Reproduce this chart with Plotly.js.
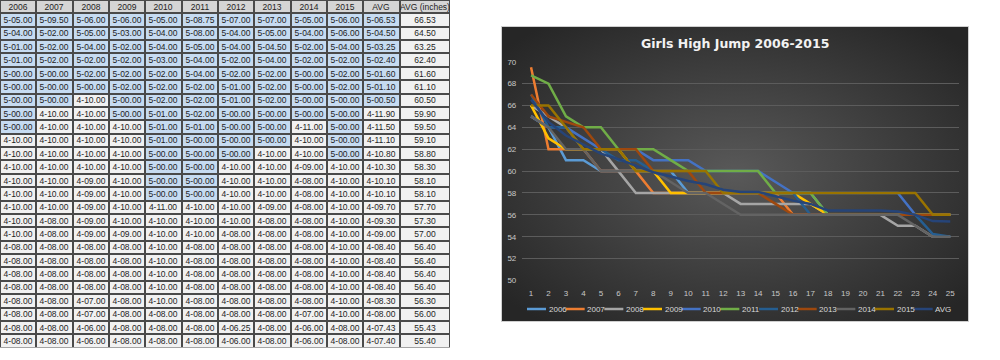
<!DOCTYPE html>
<html><head><meta charset="utf-8">
<script src="https://cdn.plot.ly/plotly-3.0.1.min.js"></script>
<style>html,body{margin:0;padding:0;background:#fff}#chart{width:1000px;height:360px}</style>
</head><body><div id="chart"></div>
<script>
// Data (heights in inches), 25 ranked places per year
const places = Array.from({length: 25}, (_, i) => i + 1);
const years = ['2006','2007','2008','2009','2010','2011','2012','2013','2014','2015'];
const h2006 = [65,64,61,61,60,60,60,60,60,58,58,58,58,58,58,58,58,56,56,56,56,56,56,56,56];
const h2007 = [69.5,62,62,62,60,60,60,58,58,58,58,58,58,58,58,56,56,56,56,56,56,56,56,56,56];
const h2008 = [66,65,64,62,62,60,58,58,58,58,58,58,57,57,57,57,57,56,56,56,56,55,55,54,54];
const h2009 = [66,63,62,62,62,62,60,60,58,58,58,58,58,58,58,58,57,56,56,56,56,56,56,56,56];
const h2010 = [65,64,64,63,62,62,62,61,61,61,60,60,60,60,59,58,58,58,58,58,58,58,56,56,56];
const h2011 = [68.75,68,65,64,64,62,62,62,61,60,60,60,60,60,58,58,58,56,56,56,56,56,56,56,56];
const h2012 = [67,64,64,62,62,61,61,60,60,60,60,58,58,58,58,58,56,56,56,56,56,56,56,54.25,54];
const h2013 = [67,65,64.5,64,62,62,62,60,60,60,58,58,58,58,57,56,56,56,56,56,56,56,56,56,56];
const h2014 = [65,64,62,62,60,60,60,60,59,58,58,57,56,56,56,56,56,56,56,56,56,56,55,54,54];
const h2015 = [66,66,64,62,62,62,60,60,60,60,60,58,58,58,58,58,58,58,58,58,58,58,58,56,56];
const avgInches = [66.53,64.50,63.25,62.40,61.60,61.10,60.50,59.90,59.50,59.10,58.80,58.30,58.10,58.10,57.70,57.30,57.00,56.40,56.40,56.40,56.40,56.30,56.00,55.43,55.40];
const seriesNames = ['2006','2007','2008','2009','2010','2011','2012','2013','2014','2015','AVG'];
const seriesData = [h2006,h2007,h2008,h2009,h2010,h2011,h2012,h2013,h2014,h2015,avgInches];
const colors = ['#5B9BD5','#ED7D31','#A5A5A5','#FFC000','#4472C4','#70AD47','#255E91','#9E480E','#636363','#997300','#264478'];
const headerLabels = ['2006','2007','2008','2009','2010','2011','2012','2013','2014','2015','AVG','AVG (inches)'];
const colWidths = [36.3,36.3,36.3,36.3,36.4,36.3,36.3,36.3,36.3,36.3,36.6,50.3];

function fmtFtIn(v) {
  const ft = Math.floor(v / 12 + 1e-9);
  const inch = v - ft * 12;
  return ft + '-' + (inch < 10 ? '0' : '') + inch.toFixed(2);
}

// Spreadsheet grid, drawn as a heatmap (row 0 = header)
const tableText = [headerLabels];
const tableClass = [headerLabels.map(() => 2)];
places.forEach((p, r) => {
  const rowT = [], rowC = [];
  seriesData.forEach(arr => { rowT.push(fmtFtIn(arr[r])); rowC.push(arr[r] >= 60 ? 1 : 0); });
  rowT.push(avgInches[r].toFixed(2)); rowC.push(0);
  tableText.push(rowT); tableClass.push(rowC);
});
const colEdges = [0];
colWidths.forEach(w => colEdges.push(colEdges[colEdges.length - 1] + w));
const rowIdx = tableText.map((_, i) => i);
const tableW = colEdges[colEdges.length - 1];

const W = 1000, H = 360;
const px = x => x / W, py = y => 1 - y / H;

const traces = [];
traces.push({
  type: 'heatmap', x: colEdges, y: rowIdx, z: tableClass, text: tableText,
  texttemplate: '%{text}',
  textfont: {family: 'Liberation Sans, Arial, sans-serif', size: 8.5, color: '#1e1e1e'},
  colorscale: [[0, '#f1f1f1'], [0.5, '#c6dbf1'], [1, '#d5d5d5']], zmin: 0, zmax: 2,
  showscale: false, xgap: 2, ygap: 2, hoverinfo: 'skip',
  xaxis: 'x2', yaxis: 'y2'
});

seriesData.forEach((arr, i) => {
  traces.push({
    type: 'scatter', mode: 'lines',
    x: places, y: arr, name: seriesNames[i],
    line: {color: colors[i], width: 2.5},
    xaxis: 'x', yaxis: 'y',
    hoverinfo: 'x+y+name'
  });
});

const bgSvg = '<svg xmlns="http://www.w3.org/2000/svg" width="468" height="296" viewBox="0 0 468 296">' +
  '<defs><radialGradient id="g" cx="50%" cy="50%" r="65%">' +
  '<stop offset="0" stop-color="#595959"/><stop offset="1" stop-color="#262626"/></radialGradient></defs>' +
  '<rect x="0.5" y="0.5" width="467" height="295" fill="url(#g)" stroke="#cfcfcf" stroke-width="1"/></svg>';

const shapes = [], annotations = [];
const tableBottom = 26 * 13.37;
shapes.push({type: 'rect', xref: 'paper', yref: 'paper', x0: 0, x1: px(tableW), y0: py(tableBottom), y1: 1,
  fillcolor: '#4a4a4a', line: {width: 0}, layer: 'below'});
annotations.push({
  xref: 'paper', yref: 'paper', x: px(735), y: py(43), xanchor: 'center', yanchor: 'middle',
  text: '<b>Girls High Jump 2006-2015</b>', showarrow: false,
  font: {family: 'DejaVu Sans, sans-serif', size: 12.5, color: '#f2f2f2'}
});
const legX0 = 527, legPitch = 38.67, legY = 309;
seriesNames.forEach((n, i) => {
  const x0 = legX0 + i * legPitch;
  shapes.push({type: 'line', xref: 'paper', yref: 'paper', x0: px(x0), x1: px(x0 + 19), y0: py(legY), y1: py(legY),
    line: {color: colors[i], width: 2.5}});
  annotations.push({xref: 'paper', yref: 'paper', x: px(x0 + 19.5), y: py(legY), xanchor: 'left', yanchor: 'middle',
    text: n, showarrow: false, font: {family: 'Liberation Sans, Arial, sans-serif', size: 8, color: '#d9d9d9'}});
});

const layout = {
  width: W, height: H,
  margin: {l: 0, r: 0, t: 0, b: 0},
  paper_bgcolor: '#ffffff', plot_bgcolor: 'rgba(0,0,0,0)',
  showlegend: false,
  xaxis: {domain: [0.5223, 0.959], range: [0.5, 25.5], tickmode: 'array', tickvals: places,
    showgrid: false, zeroline: false, showline: false, ticks: '', ticklabelstandoff: 6,
    tickfont: {family: 'Liberation Sans, Arial, sans-serif', size: 8, color: '#c8c8c8'}, anchor: 'y'},
  yaxis: {domain: [py(280.5), py(61.7)], range: [50, 70], dtick: 2, tick0: 50,
    showgrid: true, gridcolor: '#5c5c5c', gridwidth: 1, zeroline: false, showline: false, ticks: '', ticklabelstandoff: 5,
    tickfont: {family: 'Liberation Sans, Arial, sans-serif', size: 8, color: '#c8c8c8'}, anchor: 'x'},
  xaxis2: {domain: [0, px(tableW)], range: [0, tableW], visible: false, fixedrange: true, anchor: 'y2'},
  yaxis2: {domain: [py(tableBottom), 1], range: [rowIdx.length - 0.5, -0.5], visible: false, fixedrange: true, anchor: 'x2'},
  images: [{source: 'data:image/svg+xml;charset=utf-8,' + encodeURIComponent(bgSvg),
    xref: 'paper', yref: 'paper', x: px(501), y: py(26), sizex: 468 / W, sizey: 296 / H,
    xanchor: 'left', yanchor: 'top', sizing: 'stretch', layer: 'below'}],
  shapes: shapes,
  annotations: annotations
};

Plotly.newPlot('chart', traces, layout, {displayModeBar: false, staticPlot: true});
</script>
</body></html>
